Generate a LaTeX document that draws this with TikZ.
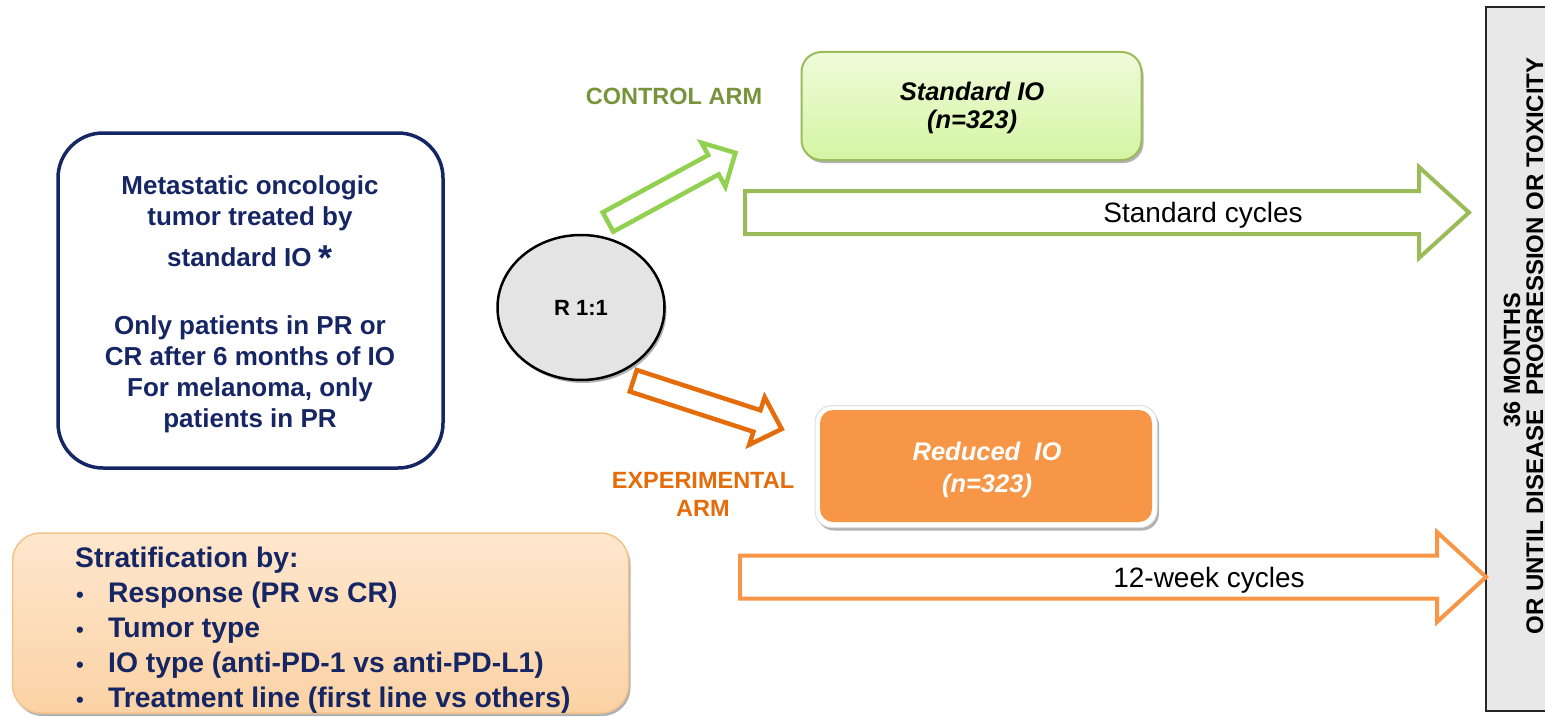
\documentclass[tikz,border=0pt]{standalone}
\usepackage{fontspec}
\setmainfont{Liberation Sans}
\usetikzlibrary{shadows,shapes.geometric}
\definecolor{navy}{RGB}{22,38,100}
\definecolor{olivegreen}{RGB}{155,187,89}
\definecolor{brightgreen}{RGB}{146,208,80}
\definecolor{darkolive}{RGB}{119,147,60}
\definecolor{lightorange}{RGB}{247,150,70}
\definecolor{darkorange}{RGB}{228,108,10}
\definecolor{greentop}{RGB}{238,251,218}
\definecolor{greenbot}{RGB}{213,245,163}
\definecolor{peachtop}{RGB}{254,231,206}
\definecolor{peachbot}{RGB}{251,210,164}
\definecolor{peachline}{RGB}{243,195,140}
\definecolor{circlegray}{RGB}{228,228,228}
\definecolor{boxgray}{RGB}{232,232,232}
\begin{document}
\begin{tikzpicture}[x=1pt,y=-1pt,
  softshadow/.style={drop shadow={shadow xshift=2pt,shadow yshift=-3pt,opacity=0.3,fill=black}},
  armlabel/.style={font=\bfseries\fontsize{23.5}{28}\selectfont, inner sep=0pt, align=center},
  cyclelabel/.style={font=\fontsize{28}{33}\selectfont, inner sep=0pt, anchor=base},
  blockarrow/.style={line width=4pt, fill=white, line join=miter},
  endtext/.style={font=\bfseries\fontsize{24}{28}\selectfont, inner sep=0pt, anchor=base, rotate=90}
]
\useasboundingbox (0,0) rectangle (1545,717);
\clip (0,0) rectangle (1545,717);

% eligibility box
\node[draw=navy, line width=3.5pt, rounded corners=45pt, minimum width=385pt, minimum height=335pt, inner sep=0pt] (elig) at (250.5,300.5) {};
\node[text=navy, font=\bfseries\fontsize{26}{31}\selectfont, align=center, inner sep=0pt] (eligtext) at (250,304)
 {Metastatic oncologic\\tumor treated by\\[10pt]standard IO \raisebox{-4pt}{\fontsize{36}{36}\selectfont *}\\[37pt]Only patients in PR or\\CR after 6 months of IO\\For melanoma, only\\patients in PR};

% stratification box
\node[draw=peachline, line width=1.5pt, top color=peachtop, bottom color=peachbot, rounded corners=28pt, minimum width=616pt, minimum height=180pt, softshadow] (strat) at (320.5,623) {};
\node[text=navy, font=\bfseries\fontsize{28.3}{35}\selectfont, align=left, inner sep=0pt, anchor=west] (strattext) at (75,630)
 {Stratification by:\\
  \makebox[33pt][l]{\hspace{1pt}{\fontsize{22}{22}\selectfont •}}Response (PR vs CR)\\
  \makebox[33pt][l]{\hspace{1pt}{\fontsize{22}{22}\selectfont •}}Tumor type\\
  \makebox[33pt][l]{\hspace{1pt}{\fontsize{22}{22}\selectfont •}}IO type (anti-PD-1 vs anti-PD-L1)\\
  \makebox[33pt][l]{\hspace{1pt}{\fontsize{22}{22}\selectfont •}}Treatment line (first line vs others)};

% randomisation
\node[ellipse, draw=black, line width=2.5pt, fill=circlegray, minimum width=167pt, minimum height=145pt, inner sep=0pt, font=\bfseries\fontsize{22}{26}\selectfont, softshadow] (rand) at (581,307.5) {R 1:1};

% control arm
\node[armlabel, text=darkolive] (ctrllabel) at (674,96) {CONTROL ARM};
\node[draw=olivegreen, line width=2pt, rounded corners=20pt, top color=greentop, bottom color=greenbot, minimum width=340pt, minimum height=108pt, inner sep=0pt, softshadow] (std) at (971.5,106) {};
\node[align=center, inner sep=0pt, font=\bfseries\itshape\fontsize{25.5}{28}\selectfont] (stdtext) at (972,107.5) {Standard IO\\(n=323)};

% experimental arm
\node[armlabel, text=darkorange] (explabel) at (703,494) {EXPERIMENTAL\\ARM};
\node[fill=white, draw=black!12, line width=1pt, rounded corners=17pt, minimum width=342pt, minimum height=122pt, softshadow] (redframe) at (986,466.5) {};
\node[fill=lightorange, rounded corners=13pt, minimum width=332pt, minimum height=112pt, inner sep=0pt] (red) at (986,466) {};
\node[align=center, inner sep=0pt, text=white, font=\bfseries\itshape\fontsize{25.5}{32}\selectfont] (redtext) at (987,469.5) {Reduced \ IO\\(n=323)};

% diagonal block arrows
\coordinate (gtail) at (608,222);
\begin{scope}[shift={(gtail)}, rotate=28.5]
  \draw[blockarrow, draw=brightgreen, line width=4.5pt] (0,-11) -- (120,-11) -- (120,-25) -- (145,0) -- (120,25) -- (120,11) -- (0,11) -- cycle;
\end{scope}
\coordinate (otail) at (633.3,380.8);
\begin{scope}[shift={(otail)}, rotate=-18]
  \draw[blockarrow, draw=darkorange, line width=4.5pt] (0,-11.3) -- (130,-11.3) -- (130,-25) -- (156,0) -- (130,25) -- (130,11.3) -- (0,11.3) -- cycle;
\end{scope}

% end box
\node[draw=black!85, line width=2pt, fill=boxgray, minimum width=84pt, minimum height=704pt, inner sep=0pt] (endbox) at (1528,359) {};
\node[endtext, font=\bfseries\fontsize{23.5}{28}\selectfont] (end1) at (1520,360) {36 MONTHS};
\node[endtext] (end2) at (1543,346) {OR UNTIL DISEASE \ PROGRESSION OR TOXICITY};

% horizontal cycle arrows
\draw[blockarrow, draw=olivegreen] (745,191) -- (1419,191) -- (1419,167) -- (1469,212.5) -- (1419,258) -- (1419,234) -- (745,234) -- cycle;
\node[cyclelabel] (stdcyc) at (1203,222.5) {Standard cycles};
\draw[blockarrow, draw=lightorange] (740,555.5) -- (1437,555.5) -- (1437,532) -- (1486,577) -- (1437,622) -- (1437,598.5) -- (740,598.5) -- cycle;
\node[cyclelabel] (redcyc) at (1209,587.5) {12-week cycles};
\end{tikzpicture}
\end{document}
